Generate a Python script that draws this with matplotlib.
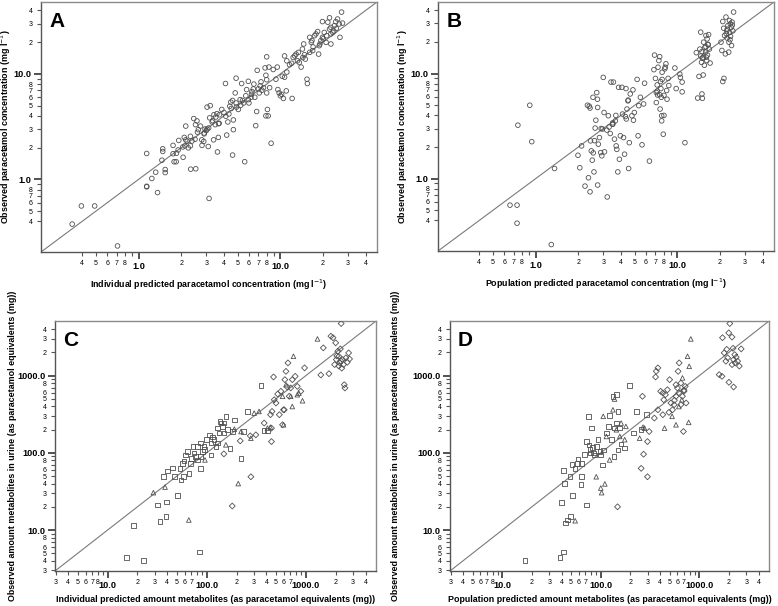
import matplotlib
matplotlib.use("Agg")
import matplotlib.pyplot as plt
import numpy as np

plt.rcParams['font.family'] = ['Liberation Sans', 'DejaVu Sans']

# ---------------- Panel A : individual predicted vs observed (mg/l) ----------------
a_pred = [0.34, 0.395, 0.49, 0.71, 1.14, 1.14, 1.14, 1.24, 1.32, 1.36, 1.48, 1.48, 1.46, 1.54, 1.54,
          1.75, 1.75, 1.78, 1.84, 1.9, 1.85, 1.92, 2.05, 2.12, 2.06, 2.15, 2.1, 2.15, 2.24, 2.32,
          2.33, 2.53, 2.32, 2.38, 2.45, 2.52, 2.58, 2.64, 2.73, 2.79, 2.8, 2.88, 2.9, 2.94, 3.04,
          3.12, 3.04, 3.2, 3.17, 3.1, 3.14, 3.33, 3.4, 3.47, 3.57, 3.38, 3.65, 3.6, 3.72, 3.86,
          3.66, 4.1, 4.12, 4.18, 4.26, 4.33, 4.4, 4.47, 4.6, 4.6, 4.66, 4.66, 4.8, 4.87, 4.87,
          4.9, 5.05, 5.2, 5.25, 5.33, 5.5, 5.6, 5.7, 5.78, 5.94, 5.94, 6.0, 6.25, 6.44, 6.5,
          6.6, 6.7, 6.8, 6.86, 7.1, 7.2, 7.3, 7.6, 7.8, 7.9, 8.0, 8.0, 8.0, 8.1, 7.9,
          8.2, 8.3, 8.4, 8.6, 8.9, 9.3, 9.5, 9.6, 9.8, 10.0, 10.2, 10.3, 10.5, 10.7, 10.7,
          11.0, 11.1, 11.1, 11.6, 12.1, 12.3, 12.6, 12.9, 13.2, 13.4, 13.6, 14.0, 14.3, 14.4, 14.6,
          15.0, 15.4, 15.5, 16.1, 16.1, 16.5, 16.7, 16.9, 17.4, 17.8, 18.3, 18.6, 18.8, 19.0, 19.3,
          19.8, 19.8, 20.4, 21.0, 21.2, 21.6, 22.2, 22.2, 22.7, 23.4, 24.0, 24.6, 25.3, 26.0, 26.3,
          27.0, 27.4, 22.7, 22.7, 2.2, 2.6, 3.0, 3.3, 4.0, 4.5, 5.4, 6.2, 7.0, 2.9, 3.5,
          6.3, 7.4, 12.0, 14.8, 17.0, 20.0, 23.8, 24.8, 2.5, 3.7]
a_obs = [0.377, 0.56, 0.56, 0.234, 0.85, 0.86, 1.76, 1.02, 1.17, 0.75, 1.84, 1.95, 1.52, 1.24, 1.16,
         2.1, 1.75, 1.47, 1.47, 1.9, 1.77, 2.34, 2.03, 2.08, 1.62, 3.2, 2.5, 2.37, 1.99, 2.08,
         1.25, 1.26, 2.56, 2.31, 3.77, 3.3, 3.58, 2.96, 3.2, 2.37, 2.1, 2.29, 2.75, 3.0, 3.0,
         3.07, 4.84, 5.0, 3.83, 2.05, 0.66, 3.6, 4.1, 3.3, 4.2, 2.37, 2.5, 1.82, 4.1, 4.6,
         3.37, 8.1, 3.97, 2.63, 3.5, 4.17, 4.94, 5.4, 5.6, 1.7, 3.66, 2.96, 6.6, 9.1, 5.3,
         4.85, 4.6, 5.7, 5.05, 8.1, 5.3, 1.47, 6.2, 7.1, 8.5, 5.7, 5.3, 6.4, 7.2, 8.0,
         6.0, 3.23, 4.4, 10.8, 6.6, 7.7, 8.4, 7.4, 11.4, 9.7, 8.8, 6.6, 14.5, 4.6, 4.0,
         4.0, 11.6, 7.4, 2.2, 11.0, 8.9, 11.6, 7.1, 6.6, 6.2, 6.4, 9.5, 5.85, 14.8, 9.3,
         6.9, 10.4, 13.3, 12.2, 5.85, 14.3, 14.8, 15.4, 13.3, 16.0, 12.8, 11.6, 17.2, 14.3, 19.2,
         13.8, 8.9, 8.1, 16.0, 22.2, 19.9, 20.7, 16.6, 23.0, 23.9, 25.2, 15.4, 18.5, 19.2, 20.7,
         22.2, 31.3, 24.7, 19.9, 23.0, 30.9, 34.0, 26.6, 27.6, 24.7, 28.6, 31.3, 33.1, 29.7, 22.2,
         38.5, 30.3, 19.2, 23.9, 2.3, 2.8, 2.9, 3.5, 4.3, 4.7, 5.6, 6.0, 7.2, 2.7, 3.9,
         6.8, 7.0, 12.6, 15.2, 18.0, 21.5, 25.5, 27.0, 2.4, 3.4]

# ---------------- Panel B : population predicted vs observed (mg/l) ----------------
b_pred = [0.66, 0.74, 0.74, 0.75, 0.91, 0.94, 1.29, 1.36, 1.99, 2.05, 2.11, 2.23, 2.36, 2.42, 2.32,
          2.39, 2.42, 2.44, 2.47, 2.51, 2.55, 2.54, 2.58, 2.63, 2.66, 2.7, 2.73, 2.74, 2.74, 2.77,
          2.82, 2.88, 2.93, 2.96, 3.0, 3.04, 3.06, 3.18, 3.2, 3.26, 3.36, 3.4, 3.49, 3.54, 3.6,
          3.65, 3.68, 3.7, 3.74, 3.8, 3.85, 3.9, 3.96, 4.06, 4.1, 4.17, 4.24, 4.34, 4.36, 4.41,
          4.48, 4.53, 4.58, 4.65, 4.78, 4.86, 4.97, 5.2, 5.28, 5.34, 5.48, 5.63, 5.78, 5.87, 6.35,
          6.83, 6.9, 7.0, 7.1, 7.1, 7.2, 7.25, 7.3, 7.4, 7.5, 7.55, 7.6, 7.65, 7.7, 7.75,
          7.75, 7.8, 7.95, 8.04, 8.04, 8.15, 8.2, 8.3, 8.4, 8.45, 8.6, 8.7, 9.6, 9.8, 10.4,
          10.5, 10.8, 10.8, 11.3, 13.6, 13.9, 14.2, 14.4, 14.6, 14.6, 14.8, 14.9, 15.0, 15.0, 15.2,
          15.3, 15.5, 15.8, 15.9, 15.9, 16.1, 16.2, 16.3, 16.5, 16.6, 16.8, 17.0, 20.3, 20.6, 20.9,
          20.9, 21.2, 21.3, 21.5, 21.8, 22.0, 22.3, 22.4, 22.7, 23.0, 23.1, 23.3, 23.3, 23.6, 23.7,
          24.0, 24.1, 24.3, 24.6, 24.9, 3.5, 3.5, 4.5, 7.5, 7.2, 15.2, 15.6, 16.0, 22.5, 23.5,
          2.6, 2.9, 3.3, 4.3, 4.9, 7.8, 14.9, 16.4, 22.1, 24.4]
b_obs = [0.56, 0.56, 0.377, 3.23, 5.0, 2.25, 0.236, 1.25, 1.67, 1.27, 2.05, 0.85, 1.02, 0.75, 5.0,
         4.9, 4.7, 2.29, 1.84, 1.5, 1.76, 5.95, 1.16, 3.03, 3.6, 6.6, 5.7, 4.76, 0.87, 2.13,
         2.46, 1.77, 1.65, 2.97, 9.2, 4.26, 1.8, 2.9, 0.67, 3.97, 2.69, 8.3, 3.3, 8.3, 2.38,
         3.55, 4.0, 2.05, 1.9, 1.16, 7.4, 1.53, 2.56, 7.4, 4.12, 2.46, 1.71, 7.2, 3.7, 4.6,
         5.5, 1.25, 2.2, 6.4, 3.97, 7.0, 4.26, 8.8, 2.56, 4.95, 5.95, 2.1, 5.14, 8.1, 1.47,
         10.9, 15.0, 9.0, 5.3, 6.6, 7.8, 6.25, 11.5, 13.3, 14.5, 4.6, 8.4, 7.2, 5.95, 3.97,
         3.55, 10.3, 2.65, 6.2, 4.0, 11.1, 11.5, 12.4, 6.9, 5.7, 9.0, 7.7, 11.3, 7.2, 9.9,
         9.2, 8.3, 6.7, 2.2, 15.8, 5.85, 9.4, 17.1, 24.8, 14.7, 12.8, 6.4, 14.0, 5.82, 9.7,
         19.9, 12.0, 16.0, 23.0, 18.0, 13.3, 21.4, 15.0, 18.8, 23.5, 17.1, 12.6, 19.9, 16.6, 31.3,
         8.4, 27.0, 9.0, 23.0, 15.4, 34.5, 25.5, 21.8, 28.6, 16.0, 19.9, 32.0, 24.7, 29.7, 22.6,
         27.6, 18.5, 30.9, 25.5, 38.5, 3.3, 3.4, 5.6, 6.3, 6.8, 14.2, 17.8, 14.3, 26.5, 21.0,
         2.3, 3.0, 3.1, 3.9, 3.6, 8.8, 16.2, 19.0, 24.0, 29.0]

# ---------------- Panel C : individual predicted vs observed amount metabolites (mg) ----------------
c_sq_pred = [15.5, 18.2, 23, 31.9, 33.7, 36.7, 39, 40, 39.5, 45, 47, 50.8, 54, 55, 58, 59, 66, 69,
             73, 74.6, 77.5, 80.6, 84, 86, 87, 91, 94, 100, 106, 110, 119, 124, 128, 133, 139, 144,
             150, 156, 162, 172, 222, 181, 235, 258, 352, 380, 410, 57, 61, 64, 81, 87, 110, 128,
             136, 150, 190, 70, 95, 115]
c_sq_obs = [4.4, 11.5, 4.0, 21, 12.8, 49, 14.9, 58, 23, 64, 49, 28, 63, 44.6, 49, 78, 54, 73,
            121, 99, 90, 81, 5.2, 63, 134, 104, 121, 148, 171, 94, 148, 121, 209, 180, 243, 220,
            180, 297, 199, 113, 85, 189, 189, 344, 741, 195, 195, 73, 94, 104, 121, 90, 134, 134,
            255, 243, 267, 85, 110, 160]
c_tr_pred = [29, 38, 66, 96, 156, 190, 208, 222, 279, 301, 337, 410, 438, 582, 595, 630, 703, 750,
             730, 820, 850, 925, 1310]
c_tr_obs = [30.5, 36, 13.5, 81, 127, 203, 40, 189, 155, 327, 344, 209, 215, 540, 231, 763, 540, 1780,
            398, 566, 592, 473, 2990]
c_di_pred = [181, 279, 149, 218, 275, 313, 450, 380, 440, 450, 456, 480, 500, 520, 540, 560, 582, 595,
             605, 614, 630, 650, 660, 680, 703, 730, 780, 820, 890, 970, 472, 1416, 1500, 1710, 1790,
             1880, 2000, 2100, 2150, 2200, 2230, 2270, 2350, 2400, 2440, 2480, 2530, 2620, 2700, 2760,
             2030, 1950, 2150, 2300, 2050, 2250]
c_di_obs = [20.5, 49, 97, 143, 166, 171, 140, 243, 312, 209, 344, 487, 442, 578, 312, 627, 231, 361,
            361, 887, 1137, 713, 1462, 540, 692, 887, 980, 726, 627, 1260, 961, 1020, 2290, 1060, 3240,
            3100, 2660, 2070, 1780, 1460, 2220, 4730, 1615, 1390, 763, 692, 1695, 1490, 1970, 1645,
            1615, 1390, 1330, 1250, 1800, 1550]

# ---------------- Panel D : population predicted vs observed amount metabolites (mg) ----------------
d_sq_pred = [17, 38.7, 41.8, 40, 44, 46, 49.6, 43, 42, 52, 48.8, 51, 55, 58, 59, 63, 64, 64, 72, 72,
             75, 76, 79, 81, 82.6, 84, 87, 90, 94, 100, 104, 106, 114, 119, 122, 133, 136, 138, 144,
             150, 150, 156, 175, 197, 216, 229, 257, 290, 144, 68, 78, 98, 128, 160]
d_sq_obs = [4.0, 4.4, 5.2, 22.9, 12.4, 13.5, 14.9, 40, 59, 28, 49, 71, 63, 73, 83, 39, 49, 73, 21,
            140, 297, 127, 100, 209, 117, 100, 94, 121, 148, 94, 70, 109, 180, 220, 302, 540, 90, 209,
            243, 109, 344, 209, 115, 741, 180, 344, 199, 312, 566, 95, 110, 105, 150, 130]
d_tr_pred = [55, 90, 100, 102, 110, 106, 138, 133, 114, 123, 144, 156, 161, 175, 180, 248, 268, 278,
             444, 580, 675, 780, 760, 790, 820, 665, 620, 530]
d_tr_obs = [13.2, 49, 35, 30.5, 39.6, 297, 498, 361, 163, 81, 199, 163, 243, 148, 220, 155, 215, 209,
            209, 231, 934, 248, 1780, 1320, 2990, 487, 398, 297]
d_di_pred = [148, 257, 272, 298, 265, 298, 310, 350, 380, 426, 436, 366, 380, 360, 405, 426, 453, 475,
             492, 500, 535, 555, 580, 580, 600, 610, 625, 650, 675, 690, 700, 720, 735, 650, 515, 1592,
             1700, 1720, 1790, 1860, 1900, 1940, 1990, 2040, 2000, 2230, 2150, 2200, 2230, 2290, 2320,
             2370, 2450, 2550, 2660, 2150, 620, 700, 560]
d_di_obs = [20, 63, 96, 49, 540, 140, 189, 282, 361, 596, 487, 1140, 1260, 960, 627, 312, 566, 657,
            334, 887, 361, 420, 540, 763, 692, 1137, 1462, 800, 540, 189, 627, 726, 442, 420, 442, 1030,
            980, 3100, 1970, 1540, 2190, 1700, 3580, 4730, 820, 713, 3160, 2260, 1615, 1870, 1460,
            1730, 1540, 1330, 2220, 1390, 600, 650, 480]

# tick labels
conc_major = [1.0, 10.0]
conc_major_labels = ['1.0', '10.0']
conc_minor = [0.4, 0.5, 0.6, 0.7, 0.8, 0.9, 2, 3, 4, 5, 6, 7, 8, 9, 20, 30, 40]
conc_minor_labels = ['4', '5', '6', '7', '8', '', '2', '3', '4', '5', '6', '7', '8', '', '2', '3', '4']

amt_major = [10.0, 100.0, 1000.0]
amt_major_labels = ['10.0', '100.0', '1000.0']
amt_minor = [3, 4, 5, 6, 7, 8, 9, 20, 30, 40, 50, 60, 70, 80, 90, 200, 300, 400, 500, 600, 700,
             800, 900, 2000, 3000, 4000]
amt_x_minor_labels = ['3', '4', '5', '6', '7', '8', '', '2', '3', '4', '5', '6', '7', '', '',
                      '2', '3', '4', '5', '6', '7', '', '', '2', '3', '4']
amt_y_minor_labels = ['3', '4', '5', '6', '', '8', '', '2', '3', '4', '5', '6', '', '8', '',
                      '2', '3', '4', '5', '6', '', '8', '', '2', '3', '4']

W, H = 778, 606
fig = plt.figure(figsize=(W / 100, H / 100), dpi=100)

def frac(l, t, r, b):
    return [l / W, 1 - b / H, (r - l) / W, (b - t) / H]

axA = fig.add_axes(frac(41, 2, 377, 252))
axB = fig.add_axes(frac(438, 2, 774, 251))
axC = fig.add_axes(frac(55, 321, 376, 571))
axD = fig.add_axes(frac(450, 321, 769, 571))

edge = '#505050'
frame = '#8a8a8a'

def style(ax, lim, major, major_lab, minor, xminlab, yminlab, letter, xlabel, ylabel, ylx, xly):
    ax.set_xscale('log')
    ax.set_yscale('log')
    ax.set_xlim(*lim)
    ax.set_ylim(*lim)
    ax.plot(lim, lim, color='#7a7a7a', lw=0.8, zorder=1)
    for s in ax.spines.values():
        s.set_color(frame)
        s.set_linewidth(1.0)
    ax.spines['left'].set_color('#555555')
    ax.spines['bottom'].set_color('#555555')
    ax.set_xticks(major)
    ax.set_xticklabels(major_lab)
    ax.set_yticks(major)
    ax.set_yticklabels(major_lab)
    ax.set_xticks(minor, minor=True)
    ax.set_xticklabels(xminlab, minor=True)
    ax.set_yticks(minor, minor=True)
    ax.set_yticklabels(yminlab, minor=True)
    ax.tick_params(which='major', length=5, width=1.2, color='#333333', labelsize=6.6, pad=2)
    ax.tick_params(which='minor', length=3, width=0.8, color='#555555', labelsize=5.0, pad=3)
    for lbl in ax.get_xticklabels() + ax.get_yticklabels():
        lbl.set_fontweight('bold')
    ax.text(0.025, 0.96, letter, transform=ax.transAxes, fontsize=15, fontweight='bold',
            ha='left', va='top')
    ax.set_xlabel(xlabel, fontsize=6.4, fontweight='bold', va='center')
    ax.set_ylabel(ylabel, fontsize=6.4, fontweight='bold', va='center')
    ax.yaxis.set_label_coords(ylx, 0.5)
    ax.xaxis.set_label_coords(0.5, xly)

conc_lim = (0.205, 48)
amt_lim = (2.95, 5100)

mk = dict(s=11, facecolors='none', edgecolors=edge, linewidths=0.6, zorder=3)

axA.scatter(a_pred, a_obs, marker='o', **mk)
axB.scatter(b_pred, b_obs, marker='o', **mk)
for ax, sp, so, tp, to, dp, do in [
        (axC, c_sq_pred, c_sq_obs, c_tr_pred, c_tr_obs, c_di_pred, c_di_obs),
        (axD, d_sq_pred, d_sq_obs, d_tr_pred, d_tr_obs, d_di_pred, d_di_obs)]:
    ax.scatter(sp, so, marker='s', **mk)
    ax.scatter(tp, to, marker='^', **mk)
    ax.scatter(dp, do, marker='D', **dict(mk, s=9))

ylab_conc = 'Observed paracetamol concentration (mg l$^{-1}$)'
style(axA, conc_lim, conc_major, conc_major_labels, conc_minor, conc_minor_labels, conc_minor_labels,
      'A', 'Individual predicted paracetamol concentration (mg l$^{-1}$)', ylab_conc, -0.104, -0.132)
style(axB, conc_lim, conc_major, conc_major_labels, conc_minor, conc_minor_labels, conc_minor_labels,
      'B', 'Population predicted paracetamol concentration (mg l$^{-1}$)', ylab_conc, -0.106, -0.132)
ylab_amt = 'Observed amount metabolites in urine (as paracetamol equivalents (mg))'
style(axC, amt_lim, amt_major, amt_major_labels, amt_minor, amt_x_minor_labels, amt_y_minor_labels,
      'C', 'Individual predicted amount metabolites (as paracetamol equivalents (mg))', ylab_amt,
      -0.131, -0.116)
style(axD, amt_lim, amt_major, amt_major_labels, amt_minor, amt_x_minor_labels, amt_y_minor_labels,
      'D', 'Population predicted amount metabolites (as paracetamol equivalents (mg))', ylab_amt,
      -0.172, -0.116)

fig.savefig('out.png', dpi=100)
